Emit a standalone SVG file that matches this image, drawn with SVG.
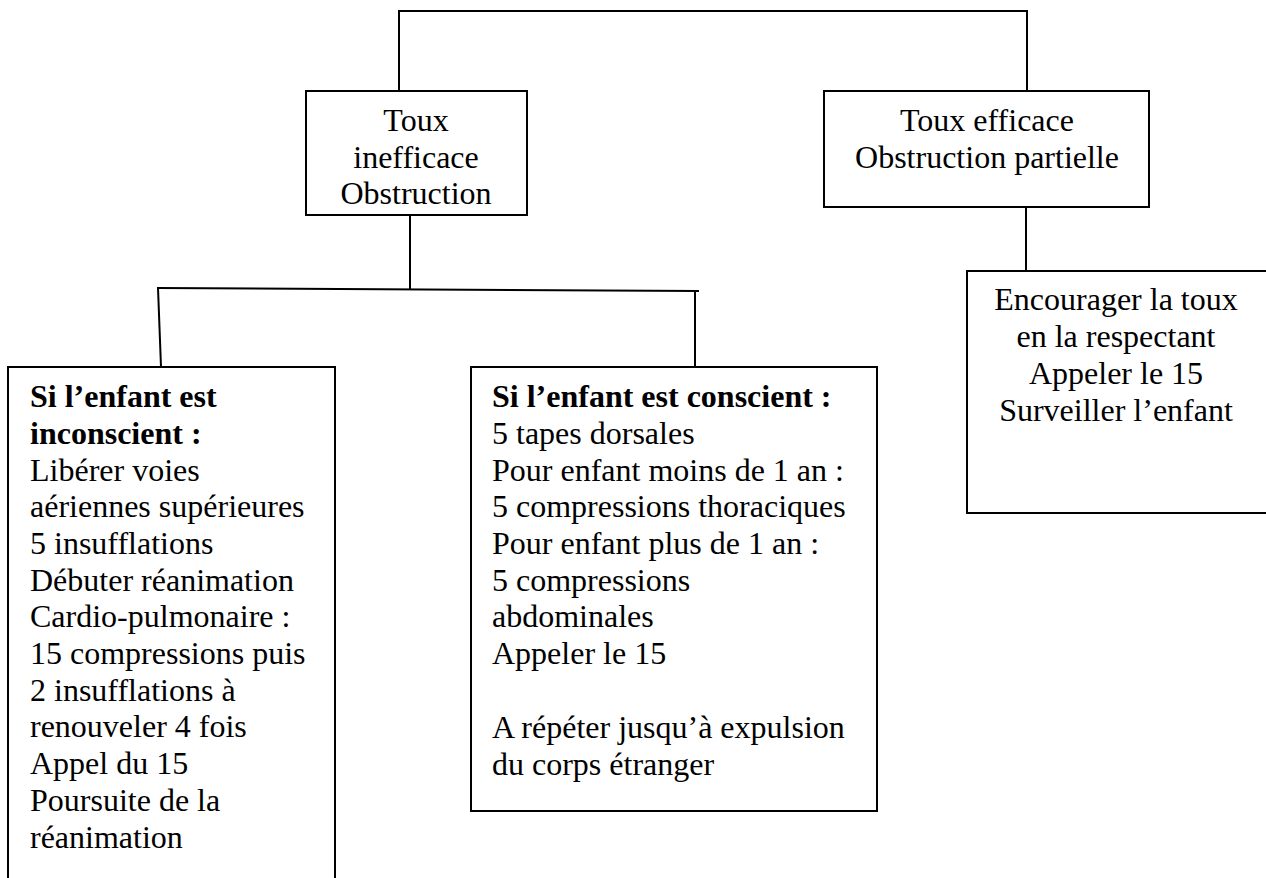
<svg xmlns="http://www.w3.org/2000/svg" width="1266" height="878" viewBox="0 0 1266 878">
<style>
.box{fill:#fff;stroke:#000;stroke-width:2}
.ln{fill:none;stroke:#000;stroke-width:2}
text{font-family:"Liberation Serif","Times New Roman",serif;font-size:32px;fill:#000}
.c{text-anchor:middle}
.b{font-weight:bold}
</style>
<rect width="1266" height="878" fill="#fff"/>
<g id="connectors">
<polyline class="ln" points="399,91 399,11 1027,11 1027,91"/>
<line class="ln" x1="410" y1="215" x2="410" y2="289"/>
<line class="ln" x1="157" y1="288" x2="699" y2="291"/>
<line class="ln" x1="158" y1="288" x2="161" y2="367"/>
<line class="ln" x1="695" y1="291" x2="695" y2="367"/>
<line class="ln" x1="1026" y1="207" x2="1026" y2="271"/>
</g>
<g id="toux-inefficace">
<rect class="box" x="306" y="91" width="221" height="124"/>
<text class="c" x="416" y="131">Toux</text>
<text class="c" x="416" y="168">inefficace</text>
<text class="c" x="416" y="204">Obstruction</text>
</g>
<g id="toux-efficace">
<rect class="box" x="824" y="91" width="325" height="116"/>
<text class="c" x="987" y="131">Toux efficace</text>
<text class="c" x="987" y="168">Obstruction partielle</text>
</g>
<g id="inconscient">
<rect class="box" x="8" y="367" width="327" height="530"/>
<text x="30" y="407" class="b">Si l’enfant est</text>
<text x="30" y="444" class="b">inconscient :</text>
<text x="30" y="481">Libérer voies</text>
<text x="30" y="517">aériennes supérieures</text>
<text x="30" y="554">5 insufflations</text>
<text x="30" y="591">Débuter réanimation</text>
<text x="30" y="627">Cardio-pulmonaire :</text>
<text x="30" y="664">15 compressions puis</text>
<text x="30" y="701">2 insufflations à</text>
<text x="30" y="737">renouveler 4 fois</text>
<text x="30" y="774">Appel du 15</text>
<text x="30" y="811">Poursuite de la</text>
<text x="30" y="848">réanimation</text>
</g>
<g id="conscient">
<rect class="box" x="471" y="367" width="406" height="444"/>
<text x="492" y="407" class="b">Si l’enfant est conscient :</text>
<text x="492" y="444">5 tapes dorsales</text>
<text x="492" y="481">Pour enfant moins de 1 an :</text>
<text x="492" y="517">5 compressions thoraciques</text>
<text x="492" y="554">Pour enfant plus de 1 an :</text>
<text x="492" y="591">5 compressions</text>
<text x="492" y="627">abdominales</text>
<text x="492" y="664">Appeler le 15</text>
<text x="492" y="738">A répéter jusqu’à expulsion</text>
<text x="492" y="775">du corps étranger</text>
</g>
<g id="encourager">
<rect class="box" x="967" y="271" width="320" height="242"/>
<text class="c" x="1116" y="310">Encourager la toux</text>
<text class="c" x="1116" y="347">en la respectant</text>
<text class="c" x="1116" y="384">Appeler le 15</text>
<text class="c" x="1116" y="421">Surveiller l’enfant</text>
</g>
</svg>
